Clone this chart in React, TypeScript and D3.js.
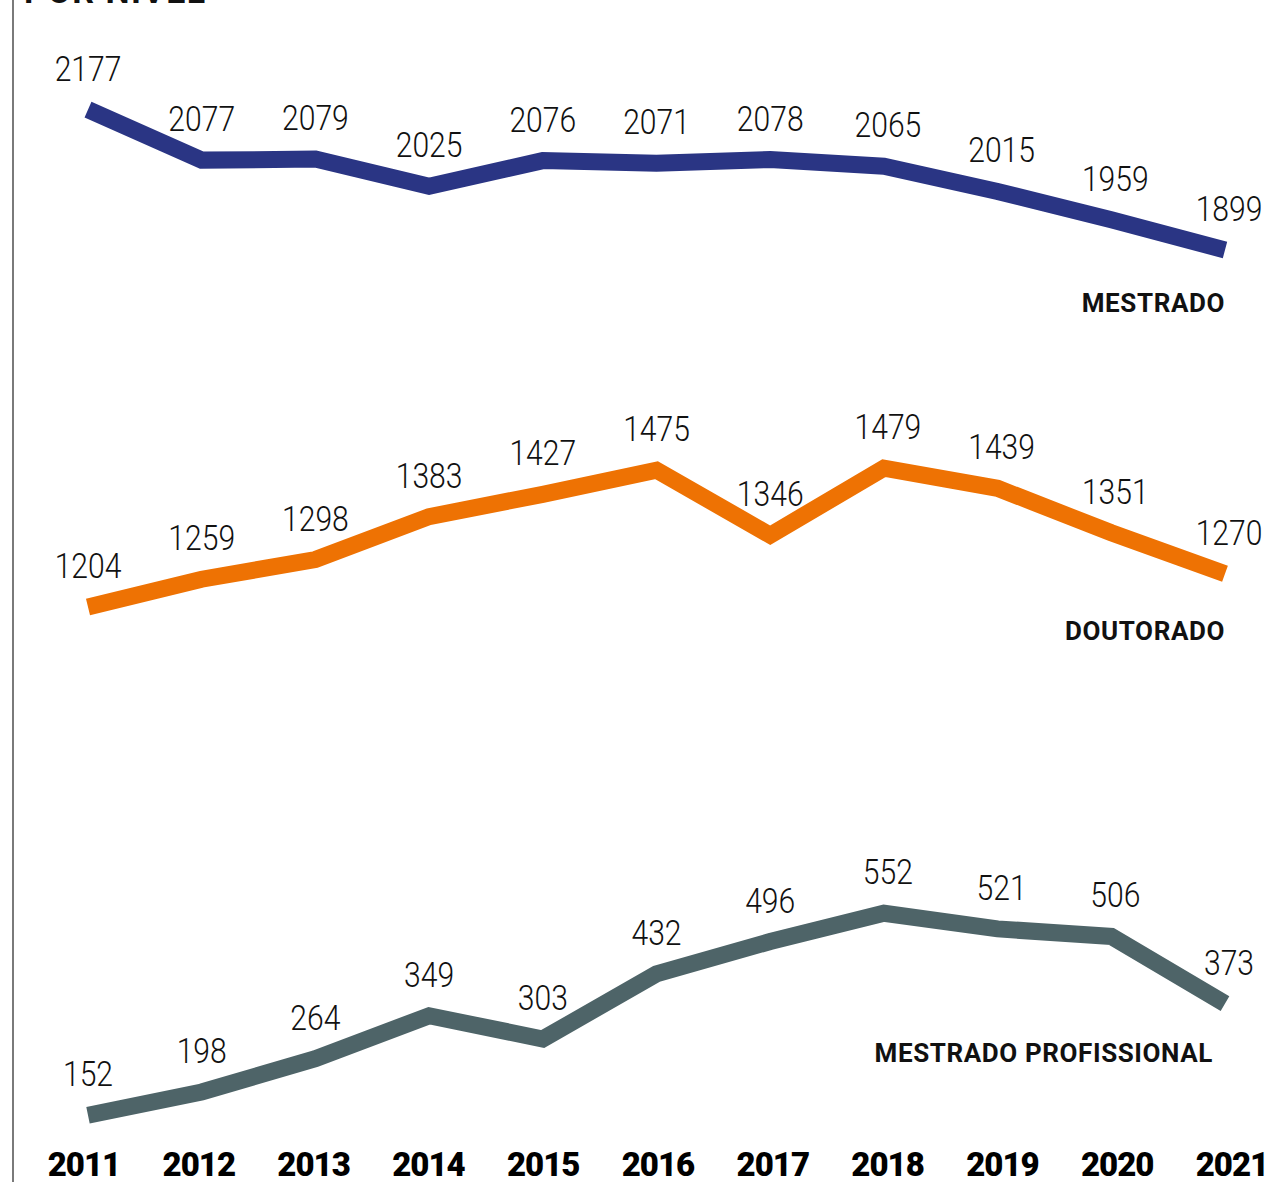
import React from 'react';
import * as d3 from 'd3';

const years = [2011, 2012, 2013, 2014, 2015, 2016, 2017, 2018, 2019, 2020, 2021];
const mestrado = [2177, 2077, 2079, 2025, 2076, 2071, 2078, 2065, 2015, 1959, 1899];
const doutorado = [1204, 1259, 1298, 1383, 1427, 1475, 1346, 1479, 1439, 1351, 1270];
const mestradoProfissional = [152, 198, 264, 349, 303, 432, 496, 552, 521, 506, 373];
const seriesNames = ['MESTRADO', 'DOUTORADO', 'MESTRADO PROFISSIONAL'];
const titleText = 'POR NÍVEL';

const W = 1281;
const H = 1188;

const series = [
  { name: seriesNames[0], values: mestrado, color: '#2a3584', shift: 0, nameDy: 62, nameEnd: 1225 },
  { name: seriesNames[1], values: doutorado, color: '#ee7203', shift: 6, nameDy: 66, nameEnd: 1225 },
  { name: seriesNames[2], values: mestradoProfissional, color: '#4e6468', shift: -17, nameDy: 58, nameEnd: 1213 },
];

export default function App() {
  const x = d3.scaleLinear().domain([2011, 2021]).range([88, 1225]);
  const xAxis = d3.scaleLinear().domain([2011, 2021]).range([84, 1232]);
  const y = d3.scaleLinear().domain([0, 2177]).range([1209, 1209 - 2177 * 0.505]);

  const numFont = 'Roboto, "Noto Sans", sans-serif';

  return (
    <div style={{ position: 'absolute', left: 0, top: 0, width: W, height: H, background: '#fff' }}>
      <svg width={W} height={H} style={{ display: 'block' }}>
        <rect x={0} y={0} width={W} height={H} fill="#ffffff" />
        <text x={24} y={3} fontFamily={numFont} fontWeight={700} fontSize={34} letterSpacing={1.5} fill="#111">
          {titleText}
        </text>
        <line x1={13} x2={13} y1={0} y2={1182} stroke="#7a7a7a" strokeWidth={2} />
        {series.map((s) => {
          const line = d3
            .line<number>()
            .x((_, i) => x(years[i]))
            .y((v) => y(v) + s.shift)
            .curve(d3.curveLinear);
          const lastY = y(s.values[s.values.length - 1]) + s.shift;
          return (
            <g key={s.name}>
              <path
                d={line(s.values) || ''}
                fill="none"
                stroke={s.color}
                strokeWidth={17}
                strokeLinejoin="miter"
                strokeLinecap="butt"
              />
              {s.values.map((v, i) => (
                <text
                  key={i}
                  transform={`translate(${x(years[i]) + (i >= 7 ? 4 : 0)},${y(v) + s.shift - 29}) scale(0.86,1)`}
                  textAnchor="middle"
                  fontFamily={numFont}
                  fontWeight={300}
                  fontSize={35}
                  fill="#111"
                >
                  {v}
                </text>
              ))}
              <text
                x={s.nameEnd}
                y={lastY + s.nameDy}
                textAnchor="end"
                fontFamily={numFont}
                fontWeight={700}
                fontSize={26}
                letterSpacing={0.6}
                fill="#111"
              >
                {s.name}
              </text>
            </g>
          );
        })}
        {years.map((yr) => (
          <text
            key={yr}
            x={xAxis(yr)}
            y={1176}
            textAnchor="middle"
            fontFamily={numFont}
            fontWeight={900}
            fontSize={33}
            letterSpacing={-1}
            fill="#000"
          >
            {yr}
          </text>
        ))}
      </svg>
    </div>
  );
}
